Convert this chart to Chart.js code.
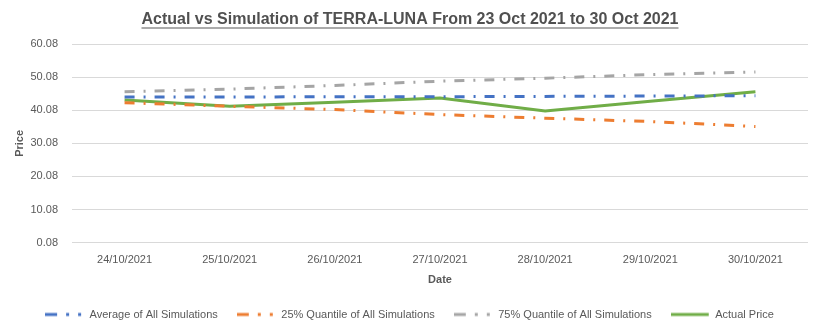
<!DOCTYPE html>
<html>
<head>
<meta charset="utf-8">
<script src="https://cdn.jsdelivr.net/npm/chart.js@4.4.0/dist/chart.umd.min.js"></script>
<style>
  html, body { margin: 0; padding: 0; background: #fff; }
  #wrap { width: 817px; height: 332px; }
</style>
</head>
<body>
<div id="wrap"><canvas id="simChart" width="817" height="332"></canvas></div>
<script>
// data
const dates = ["24/10/2021", "25/10/2021", "26/10/2021", "27/10/2021", "28/10/2021", "29/10/2021", "30/10/2021"];
const avgSim = [44.1, 44.1, 44.2, 44.2, 44.3, 44.4, 44.5];
const q25Sim = [42.4, 41.3, 40.3, 38.8, 37.7, 36.7, 35.2];
const q75Sim = [45.7, 46.5, 47.6, 48.9, 49.8, 50.9, 51.7];
const actual = [43.2, 41.3, 42.5, 43.8, 39.9, 42.8, 45.7];
const yTicks = [0.08, 10.08, 20.08, 30.08, 40.08, 50.08, 60.08];

const dashDot = [10, 9, 2, 9];
const fontMain = "'Liberation Sans', Arial, sans-serif";

// small legend marks: dash, dot, dot
function legendMark(color, dashed) {
  const c = document.createElement("canvas");
  c.width = 40; c.height = 6;
  const g = c.getContext("2d");
  g.strokeStyle = color;
  g.lineWidth = 3;
  if (dashed) g.setLineDash([12, 9, 3, 9, 3, 20]);
  g.beginPath();
  g.moveTo(0, 3);
  g.lineTo(dashed ? 40 : 38, 3);
  g.stroke();
  return c;
}

const underlineTitle = {
  id: "underlineTitle",
  afterDraw(chart) {
    const t = chart.titleBlock;
    if (!t) return;
    const ctx = chart.ctx;
    ctx.save();
    ctx.font = t.options.font.weight + " " + t.options.font.size + "px " + t.options.font.family;
    const w = ctx.measureText(t.options.text).width;
    const cx = (t.left + t.right) / 2;
    const y = t.top + t.options.padding.top + t.options.font.size + 2;
    ctx.strokeStyle = "#595959";
    ctx.lineWidth = 1.2;
    ctx.beginPath();
    ctx.moveTo(cx - w / 2, y);
    ctx.lineTo(cx + w / 2, y);
    ctx.stroke();
    ctx.restore();
  }
};

function series(label, data, color, dashed) {
  return {
    label: label,
    data: data,
    borderColor: color,
    backgroundColor: color,
    borderWidth: 3,
    borderDash: dashed ? dashDot : [],
    pointRadius: 0,
    tension: 0,
    fill: false,
    pointStyle: legendMark(color, dashed)
  };
}

new Chart(document.getElementById("simChart"), {
  type: "line",
  data: {
    labels: dates,
    datasets: [
      series("Average of All Simulations", avgSim, "#4472C4", true),
      series("25% Quantile of All Simulations", q25Sim, "#ED7D31", true),
      series("75% Quantile of All Simulations", q75Sim, "#A5A5A5", true),
      series("Actual Price", actual, "#70AD47", false)
    ]
  },
  options: {
    responsive: false,
    animation: false,
    devicePixelRatio: 1,
    layout: { padding: { left: 12, right: 9, top: 4, bottom: 2 } },
    plugins: {
      title: {
        display: true,
        text: "Actual vs Simulation of TERRA-LUNA From 23 Oct 2021 to 30 Oct 2021",
        color: "#505050",
        font: { family: fontMain, size: 16, weight: "bold" },
        padding: { top: 6, bottom: 15 }
      },
      legend: {
        position: "bottom",
        labels: {
          usePointStyle: true,
          pointStyleWidth: 38,
          boxHeight: 6,
          color: "#595959",
          font: { family: fontMain, size: 11 },
          padding: 20
        }
      },
      tooltip: { enabled: false }
    },
    scales: {
      x: {
        offset: true,
        grid: { display: false },
        border: { display: false },
        ticks: { color: "#595959", font: { family: fontMain, size: 11 }, maxRotation: 0, padding: 3 },
        title: { display: true, text: "Date", color: "#595959", font: { family: fontMain, size: 11, weight: "bold" }, padding: { top: 4, bottom: 2 } }
      },
      y: {
        min: 0.08,
        max: 60.08,
        afterBuildTicks(scale) {
          scale.ticks = yTicks.map(v => ({ value: v }));
        },
        afterFit(scale) { scale.width = 60; },
        grid: { color: "#D9D9D9", lineWidth: 1, drawTicks: false },
        border: { display: false },
        ticks: {
          color: "#595959",
          font: { family: fontMain, size: 11 },
          padding: 14,
          callback: v => v.toFixed(2)
        },
        title: { display: true, text: "Price", color: "#595959", font: { family: fontMain, size: 11, weight: "bold" }, padding: { top: 1, bottom: 4 } }
      }
    }
  },
  plugins: [underlineTitle]
});
</script>
</body>
</html>
